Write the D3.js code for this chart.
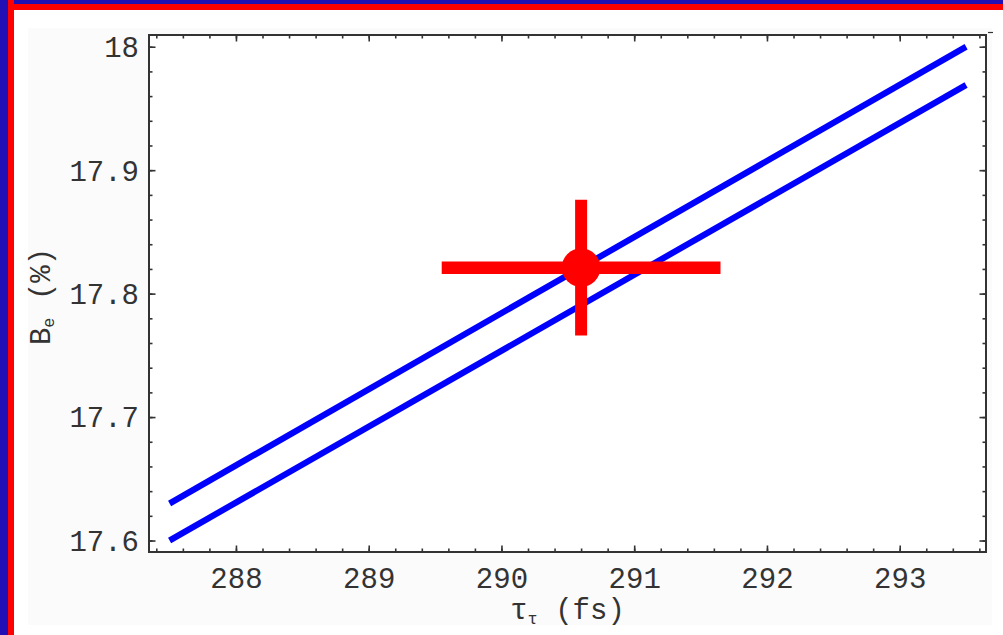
<!DOCTYPE html>
<html>
<head>
<meta charset="utf-8">
<script src="https://cdn.jsdelivr.net/npm/d3@7/dist/d3.min.js"></script>
<style>
  html, body { margin: 0; padding: 0; background: #ffffff; }
  svg { display: block; }
  text { font-family: "Liberation Mono", "DejaVu Sans Mono", monospace; fill: #333333; }
</style>
</head>
<body>
<svg id="chart" width="1003" height="635"></svg>
<script>
// Lifetime tau_tau (fs) vs electronic branching fraction B_e (%)
const xMajorTicks = [288, 289, 290, 291, 292, 293];
const xTickLabels = ["288", "289", "290", "291", "292", "293"];
const yMajorTicks = [17.6, 17.7, 17.8, 17.9, 18.0];
const yTickLabels = ["17.6", "17.7", "17.8", "17.9", "18"];

// Two predicted bands (upper and lower edge lines)
const upperLine = [
  { tau: 287.5, be: 17.630 },
  { tau: 293.5, be: 18.000 }
];
const lowerLine = [
  { tau: 287.5, be: 17.600 },
  { tau: 293.5, be: 17.969 }
];

// Measured point with errors
const measurement = { tau: 290.6, be: 17.821, tauErr: 1.05, beErr: 0.055 };

const svg = d3.select("#chart");
const W = 1003, H = 635;
const FONT = 29;

// Slide frame: blue outer, red inner strips on top and left
svg.append("rect").attr("x", 0).attr("y", 0).attr("width", W).attr("height", H).attr("fill", "#ffffff");
svg.append("rect").attr("x", 28).attr("y", 28).attr("width", 964).attr("height", 597).attr("fill", "#fbfbfb");
svg.append("rect").attr("x", 0).attr("y", 0).attr("width", W).attr("height", 10).attr("fill", "#ff0000");
svg.append("rect").attr("x", 0).attr("y", 0).attr("width", W).attr("height", 4).attr("fill", "#2210b4");
svg.append("rect").attr("x", 0).attr("y", 0).attr("width", 14).attr("height", H).attr("fill", "#ff0000");
svg.append("rect").attr("x", 0).attr("y", 0).attr("width", 8).attr("height", H).attr("fill", "#2210b4");

const plot = { left: 149, right: 986, top: 35, bottom: 552 };

const x = d3.scaleLinear().domain([287.345, 293.65]).range([plot.left, plot.right]);
const y = d3.scaleLinear().domain([17.5907, 18.0095]).range([plot.bottom, plot.top]);

svg.append("rect")
  .attr("x", plot.left).attr("y", plot.top)
  .attr("width", plot.right - plot.left).attr("height", plot.bottom - plot.top)
  .attr("fill", "#ffffff");

const xMinor = d3.range(287.4, 293.61, 0.2).map(v => +v.toFixed(1));
const yMinor = d3.range(17.6, 18.001, 0.02).map(v => +v.toFixed(2));

function styleAxis(g) {
  g.select(".domain").remove();
  g.selectAll(".tick line").attr("stroke", "#333333").attr("stroke-width", 1.6);
}

// Minor ticks on all four sides (pointing inward)
svg.append("g").attr("transform", `translate(0,${plot.bottom})`)
  .call(d3.axisBottom(x).tickValues(xMinor).tickSizeInner(-3.5).tickSizeOuter(0).tickFormat(""))
  .call(styleAxis);
svg.append("g").attr("transform", `translate(0,${plot.top})`)
  .call(d3.axisTop(x).tickValues(xMinor).tickSizeInner(-3.5).tickSizeOuter(0).tickFormat(""))
  .call(styleAxis);
svg.append("g").attr("transform", `translate(${plot.left},0)`)
  .call(d3.axisLeft(y).tickValues(yMinor).tickSizeInner(-3.5).tickSizeOuter(0).tickFormat(""))
  .call(styleAxis);
svg.append("g").attr("transform", `translate(${plot.right},0)`)
  .call(d3.axisRight(y).tickValues(yMinor).tickSizeInner(-3.5).tickSizeOuter(0).tickFormat(""))
  .call(styleAxis);

// Major ticks with labels
const xAxis = svg.append("g").attr("transform", `translate(0,${plot.bottom})`)
  .call(d3.axisBottom(x).tickValues(xMajorTicks).tickSizeInner(-6.5).tickSizeOuter(0)
    .tickFormat((d, i) => xTickLabels[i]))
  .call(styleAxis);
xAxis.selectAll(".tick text")
  .attr("y", 35.5).attr("dy", null)
  .style("font-size", FONT + "px").style("font-family", "'Liberation Mono', monospace").attr("fill", "#333333");

svg.append("g").attr("transform", `translate(0,${plot.top})`)
  .call(d3.axisTop(x).tickValues(xMajorTicks).tickSizeInner(-6.5).tickSizeOuter(0).tickFormat(""))
  .call(styleAxis);

const yAxis = svg.append("g").attr("transform", `translate(${plot.left},0)`)
  .call(d3.axisLeft(y).tickValues(yMajorTicks).tickSizeInner(-6.5).tickSizeOuter(0)
    .tickFormat((d, i) => yTickLabels[i]))
  .call(styleAxis);
yAxis.selectAll(".tick text")
  .attr("x", -10).attr("dy", "0.34em")
  .style("font-size", FONT + "px").style("font-family", "'Liberation Mono', monospace").attr("fill", "#333333");

svg.append("g").attr("transform", `translate(${plot.right},0)`)
  .call(d3.axisRight(y).tickValues(yMajorTicks).tickSizeInner(-6.5).tickSizeOuter(0).tickFormat(""))
  .call(styleAxis);

// Frame
svg.append("rect")
  .attr("x", plot.left).attr("y", plot.top)
  .attr("width", plot.right - plot.left).attr("height", plot.bottom - plot.top)
  .attr("fill", "none").attr("stroke", "#333333").attr("stroke-width", 2);

svg.append("line").attr("x1", 988).attr("x2", 993).attr("y1", 32.5).attr("y2", 32.5)
  .attr("stroke", "#333333").attr("stroke-width", 1.2);

// Clip marks to the frame
svg.append("clipPath").attr("id", "plot-clip")
  .append("rect").attr("x", plot.left).attr("y", plot.top)
  .attr("width", plot.right - plot.left).attr("height", plot.bottom - plot.top);

const marks = svg.append("g").attr("clip-path", "url(#plot-clip)");
const line = d3.line().x(d => x(d.tau)).y(d => y(d.be));

[upperLine, lowerLine].forEach(series => {
  marks.append("path")
    .datum(series)
    .attr("d", line)
    .attr("fill", "none")
    .attr("stroke", "#0000ff")
    .attr("stroke-width", 6.2)
    .attr("stroke-linecap", "butt");
});

// Measurement with error bars
marks.append("line")
  .attr("x1", x(measurement.tau - measurement.tauErr)).attr("x2", x(measurement.tau + measurement.tauErr))
  .attr("y1", y(measurement.be)).attr("y2", y(measurement.be))
  .attr("stroke", "#ff0000").attr("stroke-width", 12.5);
marks.append("line")
  .attr("x1", x(measurement.tau)).attr("x2", x(measurement.tau))
  .attr("y1", y(measurement.be - measurement.beErr)).attr("y2", y(measurement.be + measurement.beErr))
  .attr("stroke", "#ff0000").attr("stroke-width", 12);
marks.append("circle")
  .attr("cx", x(measurement.tau)).attr("cy", y(measurement.be)).attr("r", 19.3)
  .attr("fill", "#ff0000");

// Axis titles
const xTitle = svg.append("text")
  .attr("x", (plot.left + plot.right) / 2).attr("y", 619)
  .attr("text-anchor", "middle")
  .style("font-size", FONT + "px");
xTitle.append("tspan").text("τ");
xTitle.append("tspan").attr("dy", 5).style("font-size", "17px").text("τ");
xTitle.append("tspan").attr("dy", -5).text(" (fs)");

const yTitle = svg.append("text")
  .attr("transform", `translate(50,${(plot.top + plot.bottom) / 2 + 3}) rotate(-90)`)
  .attr("text-anchor", "middle")
  .style("font-size", FONT + "px");
yTitle.append("tspan").text("B");
yTitle.append("tspan").attr("dy", 4).style("font-size", "17px").text("e");
yTitle.append("tspan").attr("dy", -4).text(" (%)");
</script>
</body>
</html>
